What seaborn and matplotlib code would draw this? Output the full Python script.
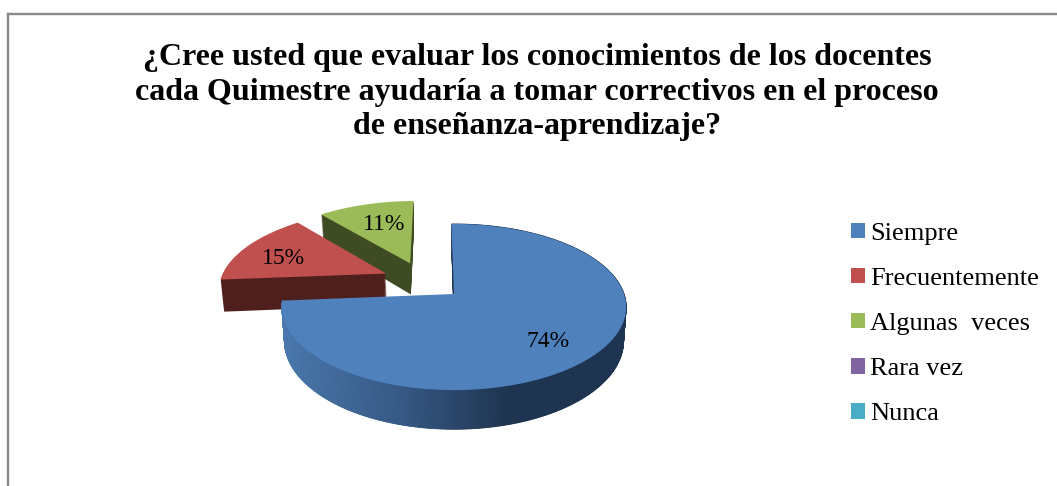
import numpy as np
import matplotlib

matplotlib.use("Agg")
import matplotlib.pyplot as plt
import seaborn as sns
from matplotlib.collections import PolyCollection
from matplotlib.transforms import ScaledTranslation, Transform

categories = ["Siempre", "Frecuentemente", "Algunas  veces", "Rara vez", "Nunca"]
values = [74, 15, 11, 0, 0]
top_colors = ["#4f81bd", "#c0504d", "#9bbb59", "#8064a2", "#4bacc6"]
wall_colors = ["#1f3552", "#4f1f1d", "#3f4b23", "#8064a2", "#4bacc6"]
rim_colors = ["#4a78ad", "#375a86", "#1e3450", "#1e3450"]
title = (
    "¿Cree usted que evaluar los conocimientos de los docentes\n"
    "cada Quimestre ayudaría a tomar correctivos en el proceso\n"
    "de enseñanza-aprendizaje?"
)

START_ANGLE = 91
EXPLODE = 0.25
N_LAYERS = 34
WEDGE_ORDER = [3, 2, 1, 0, 0]
# small pixel shifts for the percent labels
LABEL_SHIFT = [(-1, -6), (-4, -4), (6, -4), (0, 0), (0, 0)]

sns.set_theme(style="white")
plt.rcParams["font.family"] = ["Liberation Serif", "DejaVu Serif"]
plt.rcParams["text.color"] = "black"


class Perspective(Transform):
    """Tilted pie plane, unit circle -> pixels. z=0 is top face, z=1 the bottom."""

    input_dims = 2
    output_dims = 2

    def __init__(self, z=0.0):
        super().__init__()
        self.z = z

    def transform_non_affine(self, values):
        x, y = np.asarray(values).T
        w = 1 + 0.157 * y
        px = 454 + 170 * x / w * (1 - 0.015 * self.z)
        py = 294 - 81 * y / w + 33 * self.z / w
        return np.column_stack((px, py))


def draw_pie(ax, colors, z, autopct=None):
    # first wedge's apex sits at the origin, the whole pie is exploded around it
    start = np.deg2rad(START_ANGLE - 360 * values[0] / sum(values) / 2)
    center = (-EXPLODE * np.cos(start), -EXPLODE * np.sin(start))
    result = ax.pie(
        values,
        colors=colors,
        startangle=START_ANGLE,
        counterclock=False,
        explode=[EXPLODE] * len(values),
        center=center,
        autopct=autopct,
        pctdistance=0.7,
        wedgeprops={"linewidth": 0},
    )
    trans = Perspective(z) + ax.transData
    for wedge, order in zip(result[0], WEDGE_ORDER):
        wedge.set_transform(trans)
        wedge.set_zorder(order + (1 - z) * 0.5)
    return result


def main():
    fig = plt.figure(figsize=(10.57, 4.86), dpi=100)
    ax = fig.add_axes([7.5 / 1057, 0, 1049.5 / 1057, 472 / 486])

    for z in np.linspace(1, 0, N_LAYERS)[:-1]:
        draw_pie(ax, wall_colors, z)

    wedges, _, autotexts = draw_pie(
        ax,
        top_colors,
        0.0,
        autopct=lambda pct: f"{pct:.0f}%" if pct > 0 else "",
    )
    for wedge in wedges:
        wedge.set_zorder(wedge.get_zorder() + 0.4)
    for text, shift in zip(autotexts, LABEL_SHIFT):
        nudge = ScaledTranslation(shift[0] / 100, shift[1] / 100, fig.dpi_scale_trans)
        text.set_transform(Perspective(0.0) + ax.transData + nudge)
        text.set_fontsize(17)
        text.set_color("black")
        text.set_zorder(6)

    # outer rim of the big slice, shaded left to right
    blue = wedges[0]
    theta = np.deg2rad(np.linspace(blue.theta1, blue.theta2, 400))
    rim = np.column_stack(
        (blue.center[0] + blue.r * np.cos(theta), blue.center[1] + blue.r * np.sin(theta))
    )
    rim_top = Perspective(0.0).transform(rim)
    rim_bottom = Perspective(1.0).transform(rim)
    quads = [
        [rim_top[i], rim_top[i + 1], rim_bottom[i + 1], rim_bottom[i]]
        for i in range(len(rim) - 1)
    ]
    shade = sns.blend_palette(rim_colors, as_cmap=True)
    mid_x = rim_top[:-1, 0]
    rim_poly = PolyCollection(
        quads,
        array=(mid_x - mid_x.min()) / (mid_x.max() - mid_x.min()),
        cmap=shade,
        linewidths=0.6,
        edgecolors="face",
        zorder=3.6,
    )
    ax.add_collection(rim_poly, autolim=False)

    ax.set_aspect("auto")
    ax.set_xlim(7.5, 1057)
    ax.set_ylim(486, 14)
    ax.set_frame_on(True)
    sns.despine(ax=ax, top=False, right=True, left=False, bottom=True)
    for side in ["left", "top"]:
        ax.spines[side].set_color("#8a8a8a")
        ax.spines[side].set_linewidth(1.7)

    ax.legend(
        wedges,
        categories,
        loc="center left",
        bbox_to_anchor=(851 / 1057, 1 - 324 / 486),
        bbox_transform=fig.transFigure,
        frameon=False,
        fontsize=19,
        labelcolor="black",
        handlelength=0.53,
        handleheight=0.53,
        handletextpad=0.2,
        labelspacing=0.87,
        borderpad=0,
        borderaxespad=0,
    )

    fig.suptitle(
        title,
        x=537 / 1057,
        y=1 - 43 / 486,
        fontsize=23,
        fontweight="bold",
        linespacing=1.26,
        va="top",
        color="black",
    )
    fig.savefig("out.png", dpi=100)
    plt.close(fig)


if __name__ == "__main__":
    main()
